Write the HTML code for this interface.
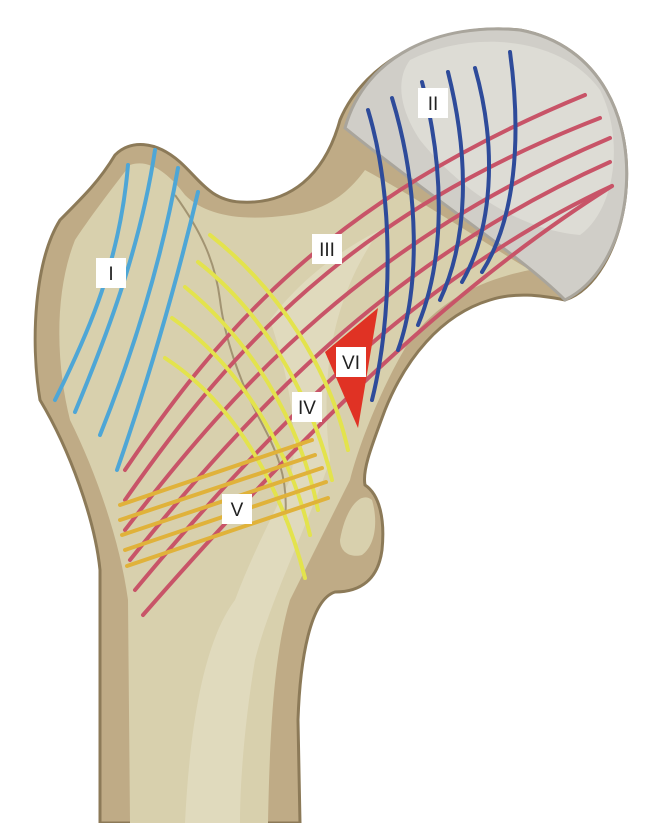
<!DOCTYPE html>
<html><head><meta charset="utf-8"><style>
html,body{margin:0;padding:0;background:#fff;}
svg{display:block}
text{font-family:"Liberation Sans",sans-serif;font-size:19px;fill:#222;text-anchor:middle}
</style></head><body>
<svg width="658" height="823" viewBox="0 0 658 823" xmlns="http://www.w3.org/2000/svg">
<!-- bone body -->
<path d="M100,823 L100,570 C95,520 70,450 40,400 C30,340 35,260 60,220 C85,195 100,180 115,155 C130,140 155,140 180,162 C200,180 210,200 240,202 C290,205 325,175 340,120 C365,60 440,22 520,30 C600,45 635,120 625,200 C618,250 595,290 565,300 C540,295 515,292 490,300 C440,315 405,360 385,410 C372,445 362,470 365,485 C380,495 385,520 382,550 C378,580 360,592 335,592 C310,600 300,660 298,720 L300,823 Z" fill="#bfab86" stroke="#8c7a58" stroke-width="3"/>
<!-- lighter interior -->
<path d="M130,823 L128,600 C120,540 95,470 70,420 C55,360 55,290 75,240 C95,210 115,185 130,165 C150,158 170,175 185,195 C205,215 240,222 290,215 C330,210 350,190 365,170 C420,200 480,240 530,270 C480,280 440,300 410,340 C385,380 360,440 350,480 C330,520 310,560 290,600 C275,650 270,720 268,823 Z" fill="#d8d0ad"/>
<path d="M185,823 C190,720 205,640 235,600 C250,560 270,520 290,480 C300,440 290,380 270,320 C300,280 340,250 380,230 C330,300 320,380 330,460 C310,520 270,600 255,660 C245,720 240,780 240,823 Z" fill="#e2dcc0" opacity="0.8"/>
<path d="M340,540 C345,510 360,490 372,500 C378,520 376,545 362,555 C350,558 340,552 340,540 Z" fill="#d8d0ad"/>
<!-- head -->
<path d="M345,128 C365,55 440,22 520,30 C600,45 635,120 625,200 C618,250 595,285 565,300 C520,255 440,205 345,128 Z" fill="#d0cec8" stroke="#a9a59c" stroke-width="3"/>
<path d="M410,60 C470,30 560,35 600,90 C625,140 615,210 580,235 C520,230 460,190 420,140 C400,110 395,80 410,60 Z" fill="#dddcd5"/>
<!-- epiphyseal line -->
<path d="M175,195 C200,230 215,260 220,300 C225,340 240,380 255,410 C270,440 290,470 285,520" fill="none" stroke="#8c7a58" stroke-width="2" opacity="0.7"/>
<g fill="none" stroke-linecap="round">
<!-- red III -->
<g stroke="#c85468" stroke-width="4">
<path d="M125,470 C220,330 330,200 585,95"/>
<path d="M125,500 C230,350 350,215 600,118"/>
<path d="M125,530 C240,380 370,240 610,138"/>
<path d="M130,560 C250,410 390,260 610,162"/>
<path d="M135,590 C260,440 410,280 612,186"/>
<path d="M143,615 C270,470 430,300 612,186"/>
</g>
<!-- light blue I -->
<g stroke="#4ea6d6" stroke-width="4">
<path d="M128,165 C120,260 90,330 55,400"/>
<path d="M155,150 C140,250 105,340 75,412"/>
<path d="M178,168 C160,270 130,360 100,435"/>
<path d="M198,192 C175,290 145,390 117,470"/>
</g>
<!-- dark blue II -->
<g stroke="#2e4b9a" stroke-width="4">
<path d="M368,110 C395,200 392,320 372,400"/>
<path d="M392,98 C420,190 420,290 398,350"/>
<path d="M422,82 C445,170 445,260 418,325"/>
<path d="M448,72 C470,160 468,240 440,300"/>
<path d="M475,68 C498,150 492,230 462,282"/>
<path d="M510,52 C522,140 515,220 482,272"/>
</g>
<!-- yellow IV -->
<g stroke="#e3e34d" stroke-width="4">
<path d="M210,235 C280,290 330,370 348,450"/>
<path d="M198,262 C260,310 310,390 332,480"/>
<path d="M185,287 C250,340 300,420 318,510"/>
<path d="M172,318 C240,365 290,450 310,535"/>
<path d="M165,358 C230,400 280,480 305,578"/>
</g>
<!-- orange V -->
<g stroke="#e0b23a" stroke-width="4">
<path d="M120,505 L312,440"/>
<path d="M120,520 L315,455"/>
<path d="M122,535 L322,468"/>
<path d="M125,550 L326,482"/>
<path d="M127,566 L328,498"/>
</g>
</g>
<!-- red triangle VI -->
<polygon points="378,308 325,352 358,428" fill="#e03224"/>
<!-- labels -->
<g fill="#fff">
<rect x="96" y="258" width="30" height="30"/>
<rect x="418" y="88" width="30" height="30"/>
<rect x="312" y="234" width="30" height="30"/>
<rect x="292" y="392" width="30" height="30"/>
<rect x="222" y="494" width="30" height="30"/>
<rect x="336" y="347" width="30" height="30"/>
</g>
<text x="111" y="280">I</text>
<text x="433" y="110">II</text>
<text x="327" y="256">III</text>
<text x="307" y="414">IV</text>
<text x="237" y="516">V</text>
<text x="351" y="369">VI</text>
</svg>
</body></html>
